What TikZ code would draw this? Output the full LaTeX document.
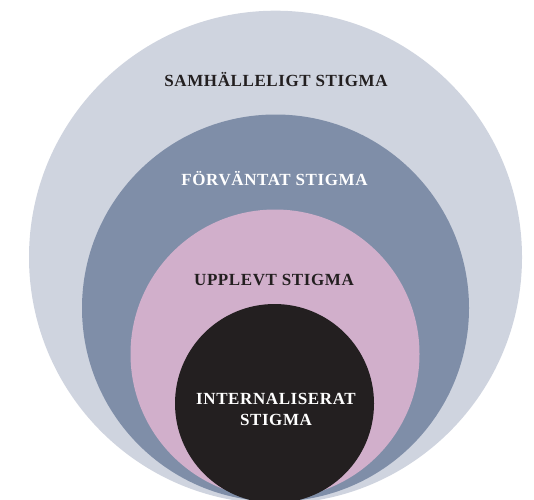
\documentclass[tikz,border=0pt]{standalone}
\usepackage{fontspec}
\setmainfont{Liberation Serif}
\definecolor{outerc}{HTML}{CFD4DF}
\definecolor{secondc}{HTML}{7F8EA8}
\definecolor{thirdc}{HTML}{D1AFCB}
\definecolor{innerc}{HTML}{231F20}
\tikzset{
  ring/.style={circle, inner sep=0pt, draw=none},
  lbl/.style={font=\fontsize{17}{20.5}\selectfont\bfseries\addfontfeature{LetterSpace=3.5}, align=center, inner sep=0pt}
}
\begin{document}
\begin{tikzpicture}[x=1pt,y=1pt]
\clip (0,0) rectangle (534,499);
\node[ring, fill=outerc, minimum size=493pt] (samh) at (275.5,241.8) {};
\node[ring, fill=secondc, minimum size=387pt] (forv) at (275.5,191) {};
\node[ring, fill=thirdc, minimum size=289pt] (uppl) at (275,145) {};
\node[ring, fill=innerc, minimum size=199pt] (intern) at (274.5,95.5) {};

\node[lbl, text=innerc] (t1) at (276,419) {SAMHÄLLELIGT STIGMA};
\node[lbl, text=white] (t2) at (274.5,320) {FÖRVÄNTAT STIGMA};
\node[lbl, text=innerc] (t3) at (274,219) {UPPLEVT STIGMA};
\node[lbl, text=white] (t4) at (276,89.5) {INTERNALISERAT\\STIGMA};
\end{tikzpicture}
\end{document}
